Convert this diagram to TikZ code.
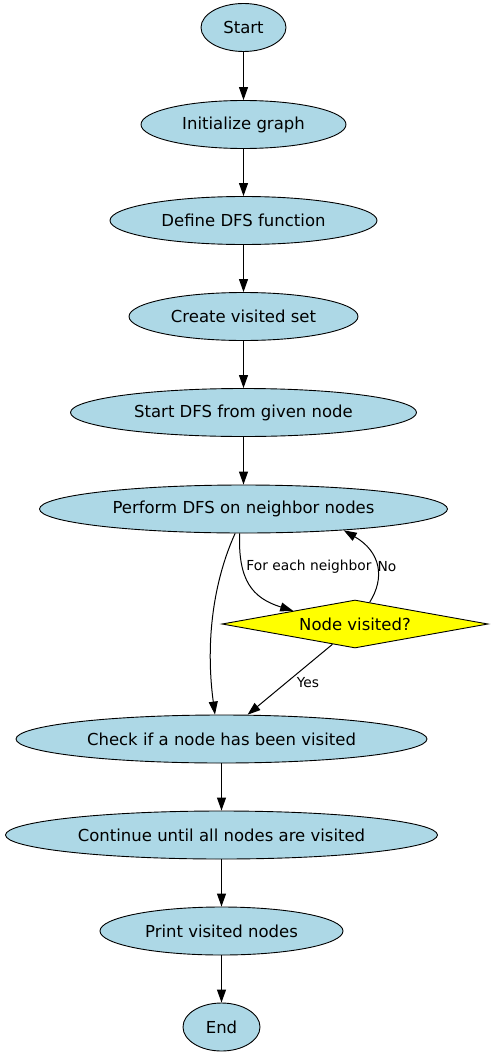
\documentclass[tikz,border=0pt]{standalone}
\usepackage{fontspec}
\setmainfont{DejaVu Sans}
\usetikzlibrary{shapes.geometric,arrows.meta}
\definecolor{lb}{HTML}{ADD8E6}
\definecolor{yl}{HTML}{FFFF00}
\begin{document}
\begin{tikzpicture}[x=1pt,y=-1pt,
  oval/.style={ellipse,draw=black,line width=0.9pt,fill=lb,inner sep=0pt,minimum height=48pt,font=\fontsize{16.5}{19}\selectfont},
  decide/.style={diamond,draw=black,line width=0.9pt,fill=yl,inner sep=0pt,shape aspect=5.54,minimum width=266pt,minimum height=48pt,font=\fontsize{16.5}{19}\selectfont},
  arr/.style={-{Triangle[length=13pt,width=9pt]},line width=1pt},
  elab/.style={font=\fontsize{13.8}{16}\selectfont,inner sep=0pt}]
\useasboundingbox (0,0) rectangle (492,1057);
\node[oval,minimum width=85pt] (start) at (243.5,27.5) {Start};
\node[oval,minimum width=205pt] (init) at (243.5,124.5) {Initialize graph};
\node[oval,minimum width=267pt] (def) at (243.5,220.5) {Define DFS function};
\node[oval,minimum width=229pt] (create) at (243.5,316.5) {Create visited set};
\node[oval,minimum width=346pt] (sdfs) at (243.5,412.5) {Start DFS from given node};
\node[oval,minimum width=408pt] (perform) at (243.5,509) {Perform DFS on neighbor nodes};
\node[decide] (dia) at (355,624) {Node visited?};
\node[oval,minimum width=411pt] (check) at (221.5,739) {Check if a node has been visited};
\node[oval,minimum width=432pt] (cont) at (221.5,835) {Continue until all nodes are visited};
\node[oval,minimum width=243pt] (print) at (221.5,931) {Print visited nodes};
\node[oval,minimum width=77pt] (end) at (221.5,1027) {End};

\draw[arr] (start) -- (init);
\draw[arr] (init) -- (def);
\draw[arr] (def) -- (create);
\draw[arr] (create) -- (sdfs);
\draw[arr] (sdfs) -- (perform);
\draw[arr] (perform.251) .. controls (214,580) and (205,640) .. (check.105);
\draw[arr] (perform.261) .. controls (238,580) and (252,598) .. (dia.168);
\draw[arr] (dia.56) .. controls (385,578) and (381,552) .. (perform.348);
\draw[arr] (dia.222) -- (check.43);
\draw[arr] (check) -- (cont);
\draw[arr] (cont) -- (print);
\draw[arr] (print) -- (end);

\node[elab] (l1) at (309,567) {For each neighbor};
\node[elab] (l2) at (387,567) {No};
\node[elab] (l3) at (308,683) {Yes};
\end{tikzpicture}
\end{document}
